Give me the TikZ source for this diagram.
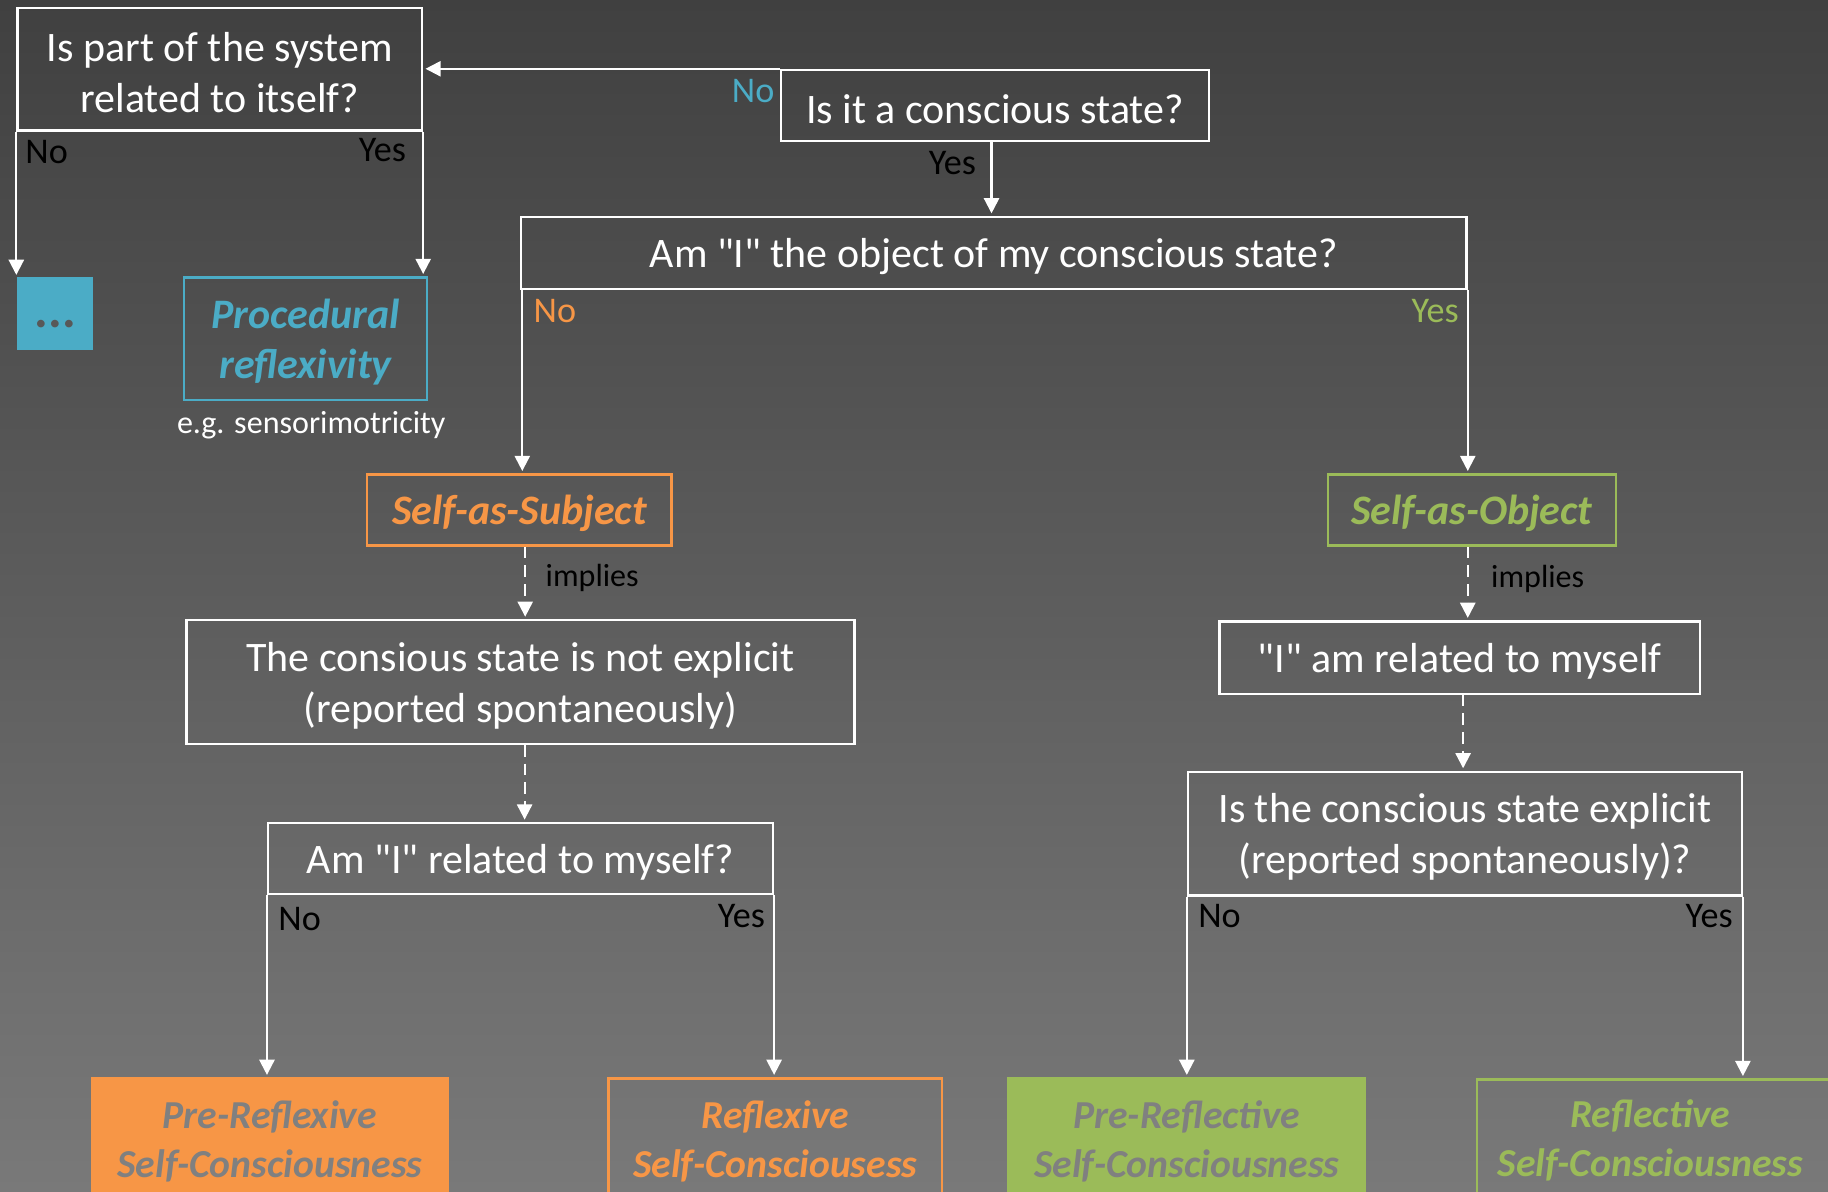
\documentclass[tikz,border=0pt]{standalone}
\usepackage{fontspec}
\setmainfont{Carlito}[Ligatures=TeXOff]
\usetikzlibrary{arrows.meta}
\definecolor{bgtop}{RGB}{64,64,64}
\definecolor{bgbot}{RGB}{121,121,121}
\definecolor{cor}{RGB}{247,150,70}
\definecolor{cgr}{RGB}{155,187,89}
\definecolor{ccy}{RGB}{75,172,198}
\definecolor{cgy}{RGB}{128,128,128}
\definecolor{cdk}{RGB}{88,88,88}
\newcommand{\dn}[1]{\raisebox{-3pt}[\height][\depth]{#1}}
\begin{document}
\begin{tikzpicture}[x=1pt,y=-1pt,
 box/.style={draw=white,line width=2pt,inner sep=0pt,align=center,text=white,font=\fontsize{36}{43.5}\selectfont},
 res/.style={line width=2pt,inner sep=0pt,align=center,font=\fontsize{34}{42}\selectfont\bfseries\itshape},
 lab/.style={inner sep=0pt,font=\fontsize{31}{37}\selectfont},
 small/.style={inner sep=0pt,font=\fontsize{27.5}{33}\selectfont},
 arr/.style={draw=white,line width=1.8pt,shorten >=2pt,-{Triangle[width=13pt,length=13pt]}},
 darr/.style={arr,dash pattern=on 10pt off 6pt}]
\useasboundingbox (0,0) rectangle (1568,1022);
\shade[top color=bgtop,bottom color=bgbot] (0,0) rectangle (1568,1022);
\clip (0,0) rectangle (1568,1022);

% question boxes
\node[box,minimum width=347pt,minimum height=105pt] (A) at (188.5,59.5) {\dn{Is part of the system}\\\dn{related to itself?}};
\node[box,minimum width=367pt,minimum height=61pt] (B) at (853.5,90.5) {\dn{Is it a conscious state?}};
\node[box,minimum width=811pt,minimum height=62pt] (C) at (852.5,217) {\dn{Am "I" the object of my conscious state?}};
\node[box,minimum width=573pt,minimum height=106pt] (D) at (446.5,585) {\dn{The consious state is not explicit}\\\dn{(reported spontaneously)}};
\node[box,minimum width=433pt,minimum height=61pt] (E) at (446.5,736.5) {\dn{Am "I" related to myself?}};
\node[box,minimum width=412pt,minimum height=62pt] (H) at (1252,564) {\dn{"I" am related to myself}};
\node[box,minimum width=475pt,minimum height=106pt] (I) at (1256.5,715) {\dn{Is the conscious state explicit}\\\dn{(reported spontaneously)?}};

% category boxes
\node[fill=ccy,minimum width=65pt,minimum height=62pt,inner sep=0pt,text=cdk,font=\fontsize{44}{50}\selectfont\bfseries] (dots) at (47.5,269) {\raisebox{-9pt}[\height][\depth]{...}};
\node[res,draw=ccy,text=ccy,minimum width=208pt,minimum height=105pt,font=\fontsize{36}{43}\selectfont\bfseries\itshape] (Proc) at (262,290.5) {\dn{Procedural}\\\dn{reflexivity}};
\node[small,text=white] (eg) at (267,362) {\dn{e.g. sensorimotricity}};
\node[res,draw=cor,text=cor,minimum width=261pt,minimum height=61pt,font=\fontsize{36}{43}\selectfont\bfseries\itshape] (Subj) at (445.5,437.5) {\dn{Self-as-Subject}};
\node[res,draw=cgr,text=cgr,minimum width=247pt,minimum height=61pt,font=\fontsize{36}{43}\selectfont\bfseries\itshape] (Obj) at (1262.5,437.5) {\dn{Self-as-Object}};

% result boxes
\node[res,fill=cor,draw=cor,text=cgy,anchor=north,minimum width=305pt,minimum height=102pt] (F) at (231.5,924) {\dn{Pre-Reflexive}\\\dn{Self-Consciousness}};
\node[res,draw=cor,text=cor,anchor=north,minimum width=286pt,minimum height=102pt] (G) at (665,924) {\dn{Reflexive}\\\dn{Self-Consciousess}};
\node[res,fill=cgr,draw=cgr,text=cgy,anchor=north,minimum width=306pt,minimum height=102pt] (J) at (1018,924) {\dn{Pre-Reflective}\\\dn{Self-Consciousness}};
\node[draw=cgr,line width=2pt,anchor=north west,minimum width=334pt,minimum height=120pt,inner sep=0pt] (Kbox) at (1266,925) {};
\node[res,text=cgr] (K) at (1415.5,975) {\dn{Reflective}\\\dn{Self-Consciousness}};

% labels
\node[lab,text=black] (lAno) at (40,130) {No};
\node[lab,text=black] (lAyes) at (328,129) {Yes};
\node[lab,text=ccy] (lBno) at (646,78) {No};
\node[lab,text=black] (lByes) at (817,140) {Yes};
\node[lab,text=cor] (lCno) at (476,267) {No};
\node[lab,text=cgr] (lCyes) at (1231,267) {Yes};
\node[lab,text=black] (lEno) at (257,788) {No};
\node[lab,text=black] (lEyes) at (636,786) {Yes};
\node[lab,text=black] (lIno) at (1046,786) {No};
\node[lab,text=black] (lIyes) at (1466,786) {Yes};
\node[small,text=black] (imp1) at (508,493) {\dn{implies}};
\node[small,text=black] (imp2) at (1319,494) {\dn{implies}};

% connectors
\draw[arr] (B.north west) -- (B.north west -| A.east);
\draw[arr] ([xshift=-3pt]B.south) -- ([xshift=-3pt]B.south |- C.north);
\draw[arr] (A.south west) -- (A.south west |- dots.north);
\draw[arr] (A.south east) -- (A.south east |- Proc.north);
\draw[arr] ([xshift=2pt]C.south west) -- ([xshift=2pt]C.south west |- Subj.north);
\draw[arr] (C.south east) -- (C.south east |- Obj.north);
\draw[darr] ([xshift=5pt]Subj.south) -- ([xshift=5pt]Subj.south |- D.north);
\draw[darr] ([xshift=3.5pt]D.south) -- ([xshift=3.5pt]D.south |- E.north);
\draw[arr] (E.south west) -- (E.south west |- F.north);
\draw[arr] (E.south east) -- (E.south east |- G.north);
\draw[darr] ([xshift=-3.5pt]Obj.south) -- ([xshift=-3.5pt]Obj.south |- H.north);
\draw[darr] ([xshift=3pt]H.south) -- ([xshift=3pt]H.south |- I.north);
\draw[arr] (I.south west) -- (I.south west |- J.north);
\draw[arr] (I.south east) -- (I.south east |- Kbox.north);
\end{tikzpicture}
\end{document}
